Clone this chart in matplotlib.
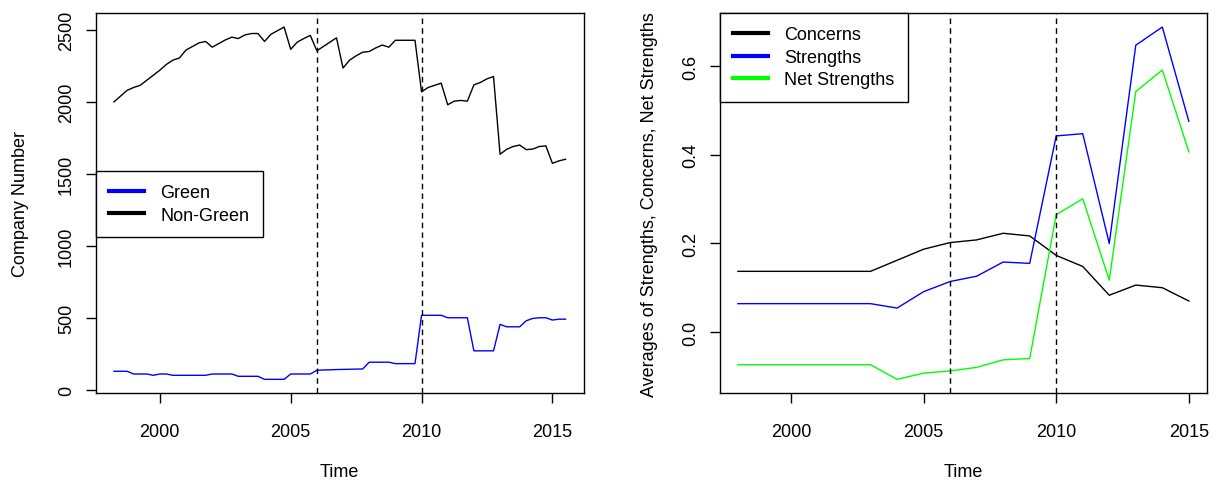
"""Green vs Non-Green company counts and KLD strengths/concerns averages"""
import numpy as np
import matplotlib
matplotlib.use("Agg")
import matplotlib.pyplot as plt

plt.rcParams["font.family"] = ["Liberation Sans", "DejaVu Sans"]
plt.rcParams["font.size"] = 13

# --- left panel: quarterly company counts (1998Q2 .. 2015Q3) ---
quarters = 1998.25 + 0.25 * np.arange(70)
non_green = [2000, 2040, 2080, 2100, 2115, 2150, 2185, 2220, 2260, 2290,
             2305, 2360, 2385, 2410, 2420, 2380, 2405, 2430, 2450, 2440,
             2465, 2475, 2475, 2420, 2470, 2495, 2520, 2365, 2415, 2440,
             2462, 2355, 2385, 2415, 2445, 2235, 2290, 2320, 2345, 2350,
             2375, 2395, 2380, 2428, 2428, 2428, 2428, 2070, 2100, 2115,
             2130, 1980, 2005, 2010, 2005, 2118, 2135, 2160, 2176, 1636,
             1670, 1690, 1700, 1668, 1672, 1690, 1694, 1573, 1590, 1601]
green = [128, 128, 128, 109, 109, 109, 100, 109, 109, 100,
         100, 100, 100, 100, 100, 109, 109, 109, 109, 93,
         93, 93, 93, 72, 72, 72, 72, 109, 109, 109,
         109, 135, 137, 138, 140, 141, 142, 143, 144, 191,
         191, 191, 191, 181, 181, 181, 181, 517, 517, 517,
         517, 500, 500, 500, 500, 270, 270, 270, 270, 454,
         437, 437, 437, 479, 495, 500, 500, 484, 490, 490]

# --- right panel: yearly averages ---
years = np.arange(1998, 2016)
concerns = [0.137, 0.137, 0.137, 0.137, 0.137, 0.137, 0.162, 0.187, 0.202,
            0.208, 0.223, 0.217, 0.173, 0.148, 0.083, 0.106, 0.100, 0.070]
strengths = [0.064, 0.064, 0.064, 0.064, 0.064, 0.064, 0.054, 0.091, 0.114,
             0.126, 0.158, 0.155, 0.443, 0.448, 0.200, 0.648, 0.689, 0.476]
net_strengths = [-0.074, -0.074, -0.074, -0.074, -0.074, -0.074, -0.107, -0.093, -0.088,
                 -0.080, -0.063, -0.060, 0.265, 0.301, 0.117, 0.543, 0.592, 0.407]

events = [2006, 2010]

fig = plt.figure(figsize=(12.16, 4.81), dpi=100)
ax1 = fig.add_axes([0.0789, 0.180, 0.401, 0.791])
ax2 = fig.add_axes([0.592, 0.180, 0.4005, 0.791])


def r_style(ax, x, ys):
    lo = min(min(y) for y in ys)
    hi = max(max(y) for y in ys)
    pad = 0.04 * (hi - lo)
    ax.set_ylim(lo - pad, hi + pad)
    xpad = 0.04 * (x[-1] - x[0])
    ax.set_xlim(x[0] - xpad, x[-1] + xpad)
    for s in ax.spines.values():
        s.set_linewidth(1.0)
    ax.tick_params(direction="out", length=7, width=1)
    ax.tick_params(axis="x", pad=14)
    ax.tick_params(axis="y", pad=8)
    for lab in ax.get_yticklabels():
        lab.set_rotation(90)
        lab.set_va("center")
    for v in events:
        ax.axvline(v, color="black", lw=1, ls=(0, (4, 3)))


def r_legend(ax, handles, labels, anchor):
    leg = ax.legend(handles=handles, labels=labels, loc="upper left",
                    bbox_to_anchor=anchor, borderaxespad=0, fancybox=False,
                    framealpha=1, edgecolor="black", handlelength=1.9,
                    borderpad=0.75, labelspacing=0.3, handletextpad=0.9)
    leg.get_frame().set_linewidth(1.0)
    return leg


ax1.plot(quarters, non_green, color="black", lw=1)
ax1.plot(quarters, green, color="blue", lw=1)
ax1.set_xticks([2000, 2005, 2010, 2015])
ax1.set_yticks([0, 500, 1000, 1500, 2000, 2500])
r_style(ax1, quarters, [non_green, green])
ax1.set_xlabel("Time", labelpad=17)
ax1.set_ylabel("Company Number", labelpad=21)
r_legend(ax1, [plt.Line2D([], [], color="blue", lw=3),
               plt.Line2D([], [], color="black", lw=3)],
         ["Green", "Non-Green"], (0, 0.585))

ax2.plot(years, concerns, color="black", lw=1)
ax2.plot(years, strengths, color="blue", lw=1)
ax2.plot(years, net_strengths, color="#00ff00", lw=1)
ax2.set_xticks([2000, 2005, 2010, 2015])
ax2.set_yticks([0.0, 0.2, 0.4, 0.6])
ax2.set_yticklabels(["0.0", "0.2", "0.4", "0.6"])
r_style(ax2, years, [concerns, strengths, net_strengths])
ax2.set_xlabel("Time", labelpad=17)
ax2.set_ylabel("Averages of Strengths, Concerns, Net Strengths", labelpad=17)
r_legend(ax2, [plt.Line2D([], [], color="black", lw=3),
               plt.Line2D([], [], color="blue", lw=3),
               plt.Line2D([], [], color="#00ff00", lw=3)],
         ["Concerns", "Strengths", "Net Strengths"], (0, 1))

fig.savefig("out.png", dpi=100)
